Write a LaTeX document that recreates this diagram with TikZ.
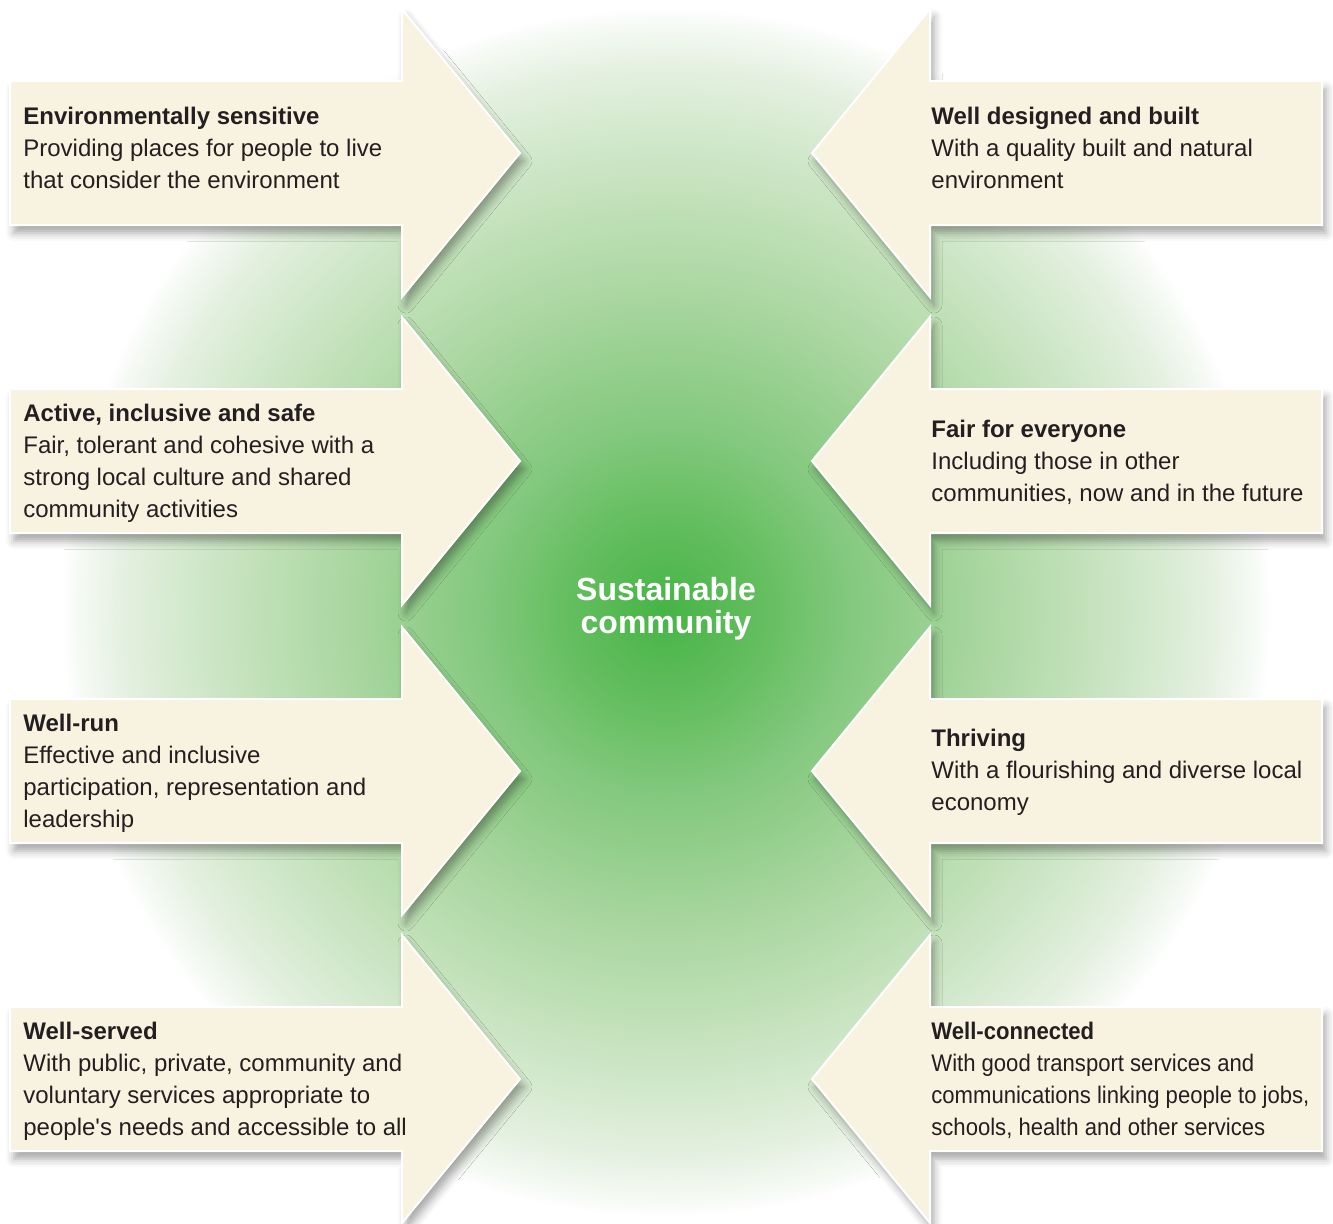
\documentclass[tikz,border=0pt]{standalone}
\usepackage{fontspec}
\setmainfont{Liberation Sans}[Ligatures=TeXOff]
\usepackage{tikz}
\usetikzlibrary{shadows.blur}

\definecolor{cream}{RGB}{248,243,225}
\definecolor{textdark}{RGB}{35,31,32}
\definecolor{glowA}{RGB}{70,180,70}
\definecolor{glowB}{RGB}{100,190,95}
\definecolor{glowC}{RGB}{130,200,125}
\definecolor{glowD}{RGB}{172,215,162}
\definecolor{glowE}{RGB}{205,230,198}
\definecolor{glowF}{RGB}{228,240,224}
\definecolor{glowG}{RGB}{248,251,247}
\pgfdeclareradialshading{glow}{\pgfpointorigin}{color(0bp)=(glowA); color(4bp)=(glowB); color(7.5bp)=(glowC); color(13.5bp)=(glowD); color(19bp)=(glowE); color(22.5bp)=(glowF); color(24.5bp)=(glowG); color(25bp)=(white); color(50bp)=(white)}

\begin{document}
\begin{tikzpicture}[x=0.5pt, y=-0.5pt,
    arrowbox/.style={fill=cream, draw=white, line width=1pt, line join=miter,
      blur shadow={shadow xshift=2pt, shadow yshift=-4pt, shadow blur radius=4pt, shadow opacity=35}},
    boxtext/.style={anchor=west, align=left, inner sep=0pt, text=textdark, font=\fontsize{12}{16}\selectfont},
    centretext/.style={align=center, inner sep=0pt, text=white, font=\bfseries\fontsize{16}{16.5}\selectfont}]
        % 背景
        \useasboundingbox (0,0) rectangle (1333,1223);
        \shade[shading=glow] (666,612) circle[radius=605];

        % 矢印
        \foreach \c in {153,461,771,1079}{
          \path[arrowbox] (10,\c-72) -- (402,\c-72) -- (402,\c-144) -- (520,\c) -- (402,\c+144) -- (402,\c+72) -- (10,\c+72) -- cycle;
          \path[arrowbox] (1322,\c-72) -- (930,\c-72) -- (930,\c-144) -- (812,\c) -- (930,\c+144) -- (930,\c+72) -- (1322,\c+72) -- cycle;
        }

        % 左の文字
        \node[boxtext] (envsens) at (23,148) {\textbf{Environmentally sensitive}\\Providing places for people to live\\that consider the environment};
        \node[boxtext] (active) at (23,463) {\textbf{Active, inclusive and safe}\\Fair, tolerant and cohesive with a\\strong local culture and shared\\community activities};
        \node[boxtext] (wellrun) at (23,773) {\textbf{Well-run}\\Effective and inclusive\\participation, representation and\\leadership};
        \node[boxtext] (wellserved) at (23,1081) {\textbf{Well-served}\\With public, private, community and\\voluntary services appropriate to\\people's needs and accessible to all};

        % 右の文字
        \node[boxtext] (welldesigned) at (931,148) {\textbf{Well designed and built}\\With a quality built and natural\\environment};
        \node[boxtext] (fair) at (931,462) {\textbf{Fair for everyone}\\Including those in other\\communities, now and in the future};
        \node[boxtext] (thriving) at (931,772) {\textbf{Thriving}\\With a flourishing and diverse local\\economy};
        \node[boxtext, font=\fontsize{12}{16}\selectfont\addfontfeatures{FakeStretch=0.92}] (wellconn) at (931,1080) {\textbf{Well-connected}\\With good transport services and\\communications linking people to jobs,\\schools, health and other services};

        % 中央
        \node[centretext] (centre) at (666,609) {Sustainable\\community};
\end{tikzpicture}
\end{document}
